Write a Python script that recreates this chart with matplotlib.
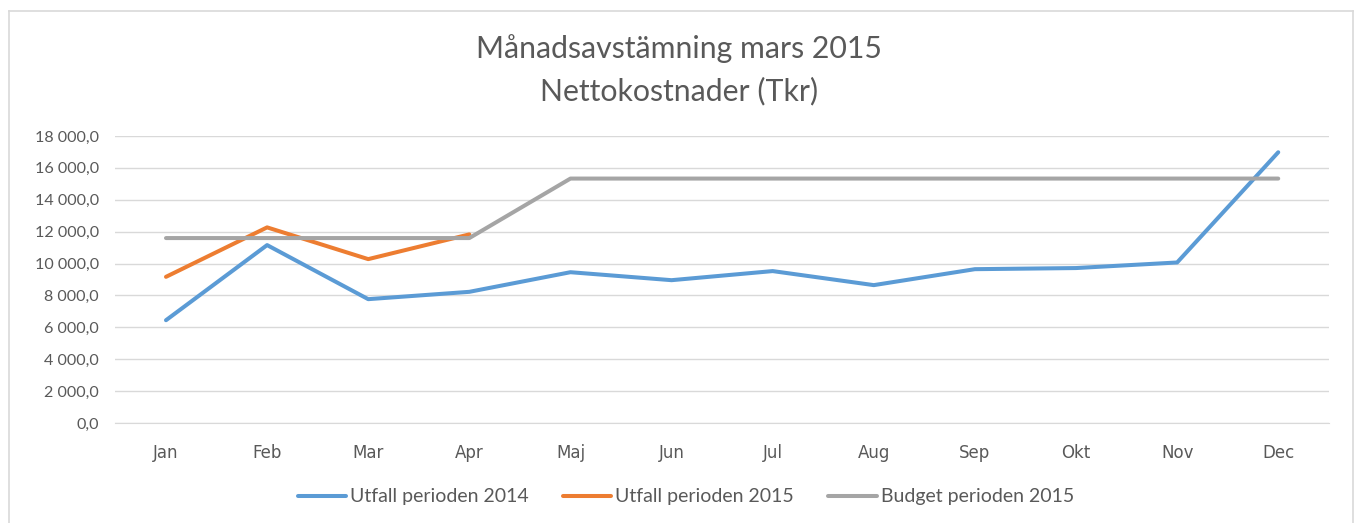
import matplotlib.pyplot as plt
from matplotlib.lines import Line2D
from matplotlib.ticker import FuncFormatter

months = ['Jan', 'Feb', 'Mar', 'Apr', 'Maj', 'Jun', 'Jul', 'Aug', 'Sep', 'Okt', 'Nov', 'Dec']
utfall_2014 = [6450, 11160, 7770, 8230, 9460, 8960, 9530, 8650, 9650, 9720, 10070, 16980]
utfall_2015 = [9170, 12270, 10280, 11830]
budget_2015 = [11600, 11600, 11600, 11600, 15330, 15330, 15330, 15330, 15330, 15330, 15330, 15330]
yticks = list(range(0, 18001, 2000))

txt = '#595959'
grid = '#d9d9d9'

fig = plt.figure(figsize=(13.58, 5.23), dpi=100)
ax = fig.add_axes([0.085, 0.191, 0.8935, 0.549])

x = list(range(len(months)))
ax.plot(x, utfall_2014, color='#5B9BD5', lw=2.9, solid_capstyle='round', label='Utfall perioden 2014', zorder=3)
ax.plot(x[:len(utfall_2015)], utfall_2015, color='#ED7D31', lw=2.9, solid_capstyle='round', label='Utfall perioden 2015', zorder=3)
ax.plot(x, budget_2015, color='#A5A5A5', lw=2.9, solid_capstyle='round', label='Budget perioden 2015', zorder=3)

ax.set_xlim(-0.5, 11.5)
ax.set_ylim(0, 18000)
ax.set_yticks(yticks)
ax.yaxis.set_major_formatter(FuncFormatter(lambda v, p: f'{v:,.1f}'.replace(',', ' ').replace('.', ',')))
ax.set_xticks(x)
ax.set_xticklabels(months, family='DejaVu Sans', fontsize=12, color=txt)
for lab in ax.get_yticklabels():
    lab.set_family('Lato')
    lab.set_fontsize(11.6)
    lab.set_color(txt)
ax.tick_params(axis='both', length=0)
ax.tick_params(axis='y', pad=12)
ax.tick_params(axis='x', pad=15)
ax.grid(axis='y', color=grid, lw=1)
ax.set_axisbelow(True)
for s in ['top', 'right', 'left']:
    ax.spines[s].set_visible(False)
ax.spines['bottom'].set_color(grid)

fig.text(0.5, 0.908, 'Månadsavstämning mars 2015', ha='center', va='center', fontsize=21.8, family='Lato', color=txt)
fig.text(0.5, 0.826, 'Nettokostnader (Tkr)', ha='center', va='center', fontsize=21.8, family='Lato', color=txt)

leg = fig.legend(loc='center', bbox_to_anchor=(0.505, 0.05), ncol=3, frameon=False,
                 prop={'family': 'Lato', 'size': 14}, handlelength=2.5, handletextpad=0.2, columnspacing=1.75)
for t in leg.get_texts():
    t.set_color(txt)

# chart frame
fig.add_artist(Line2D([9 / 1358, 9 / 1358], [0, 1 - 11 / 523], transform=fig.transFigure, color='#d9d9d9', lw=1.2))
fig.add_artist(Line2D([9 / 1358, 1353 / 1358], [1 - 11 / 523, 1 - 11 / 523], transform=fig.transFigure, color='#d9d9d9', lw=1.2))
fig.add_artist(Line2D([1353 / 1358, 1353 / 1358], [0, 1 - 11 / 523], transform=fig.transFigure, color='#d9d9d9', lw=1.2))

fig.savefig('out.png', dpi=100, facecolor='white')
